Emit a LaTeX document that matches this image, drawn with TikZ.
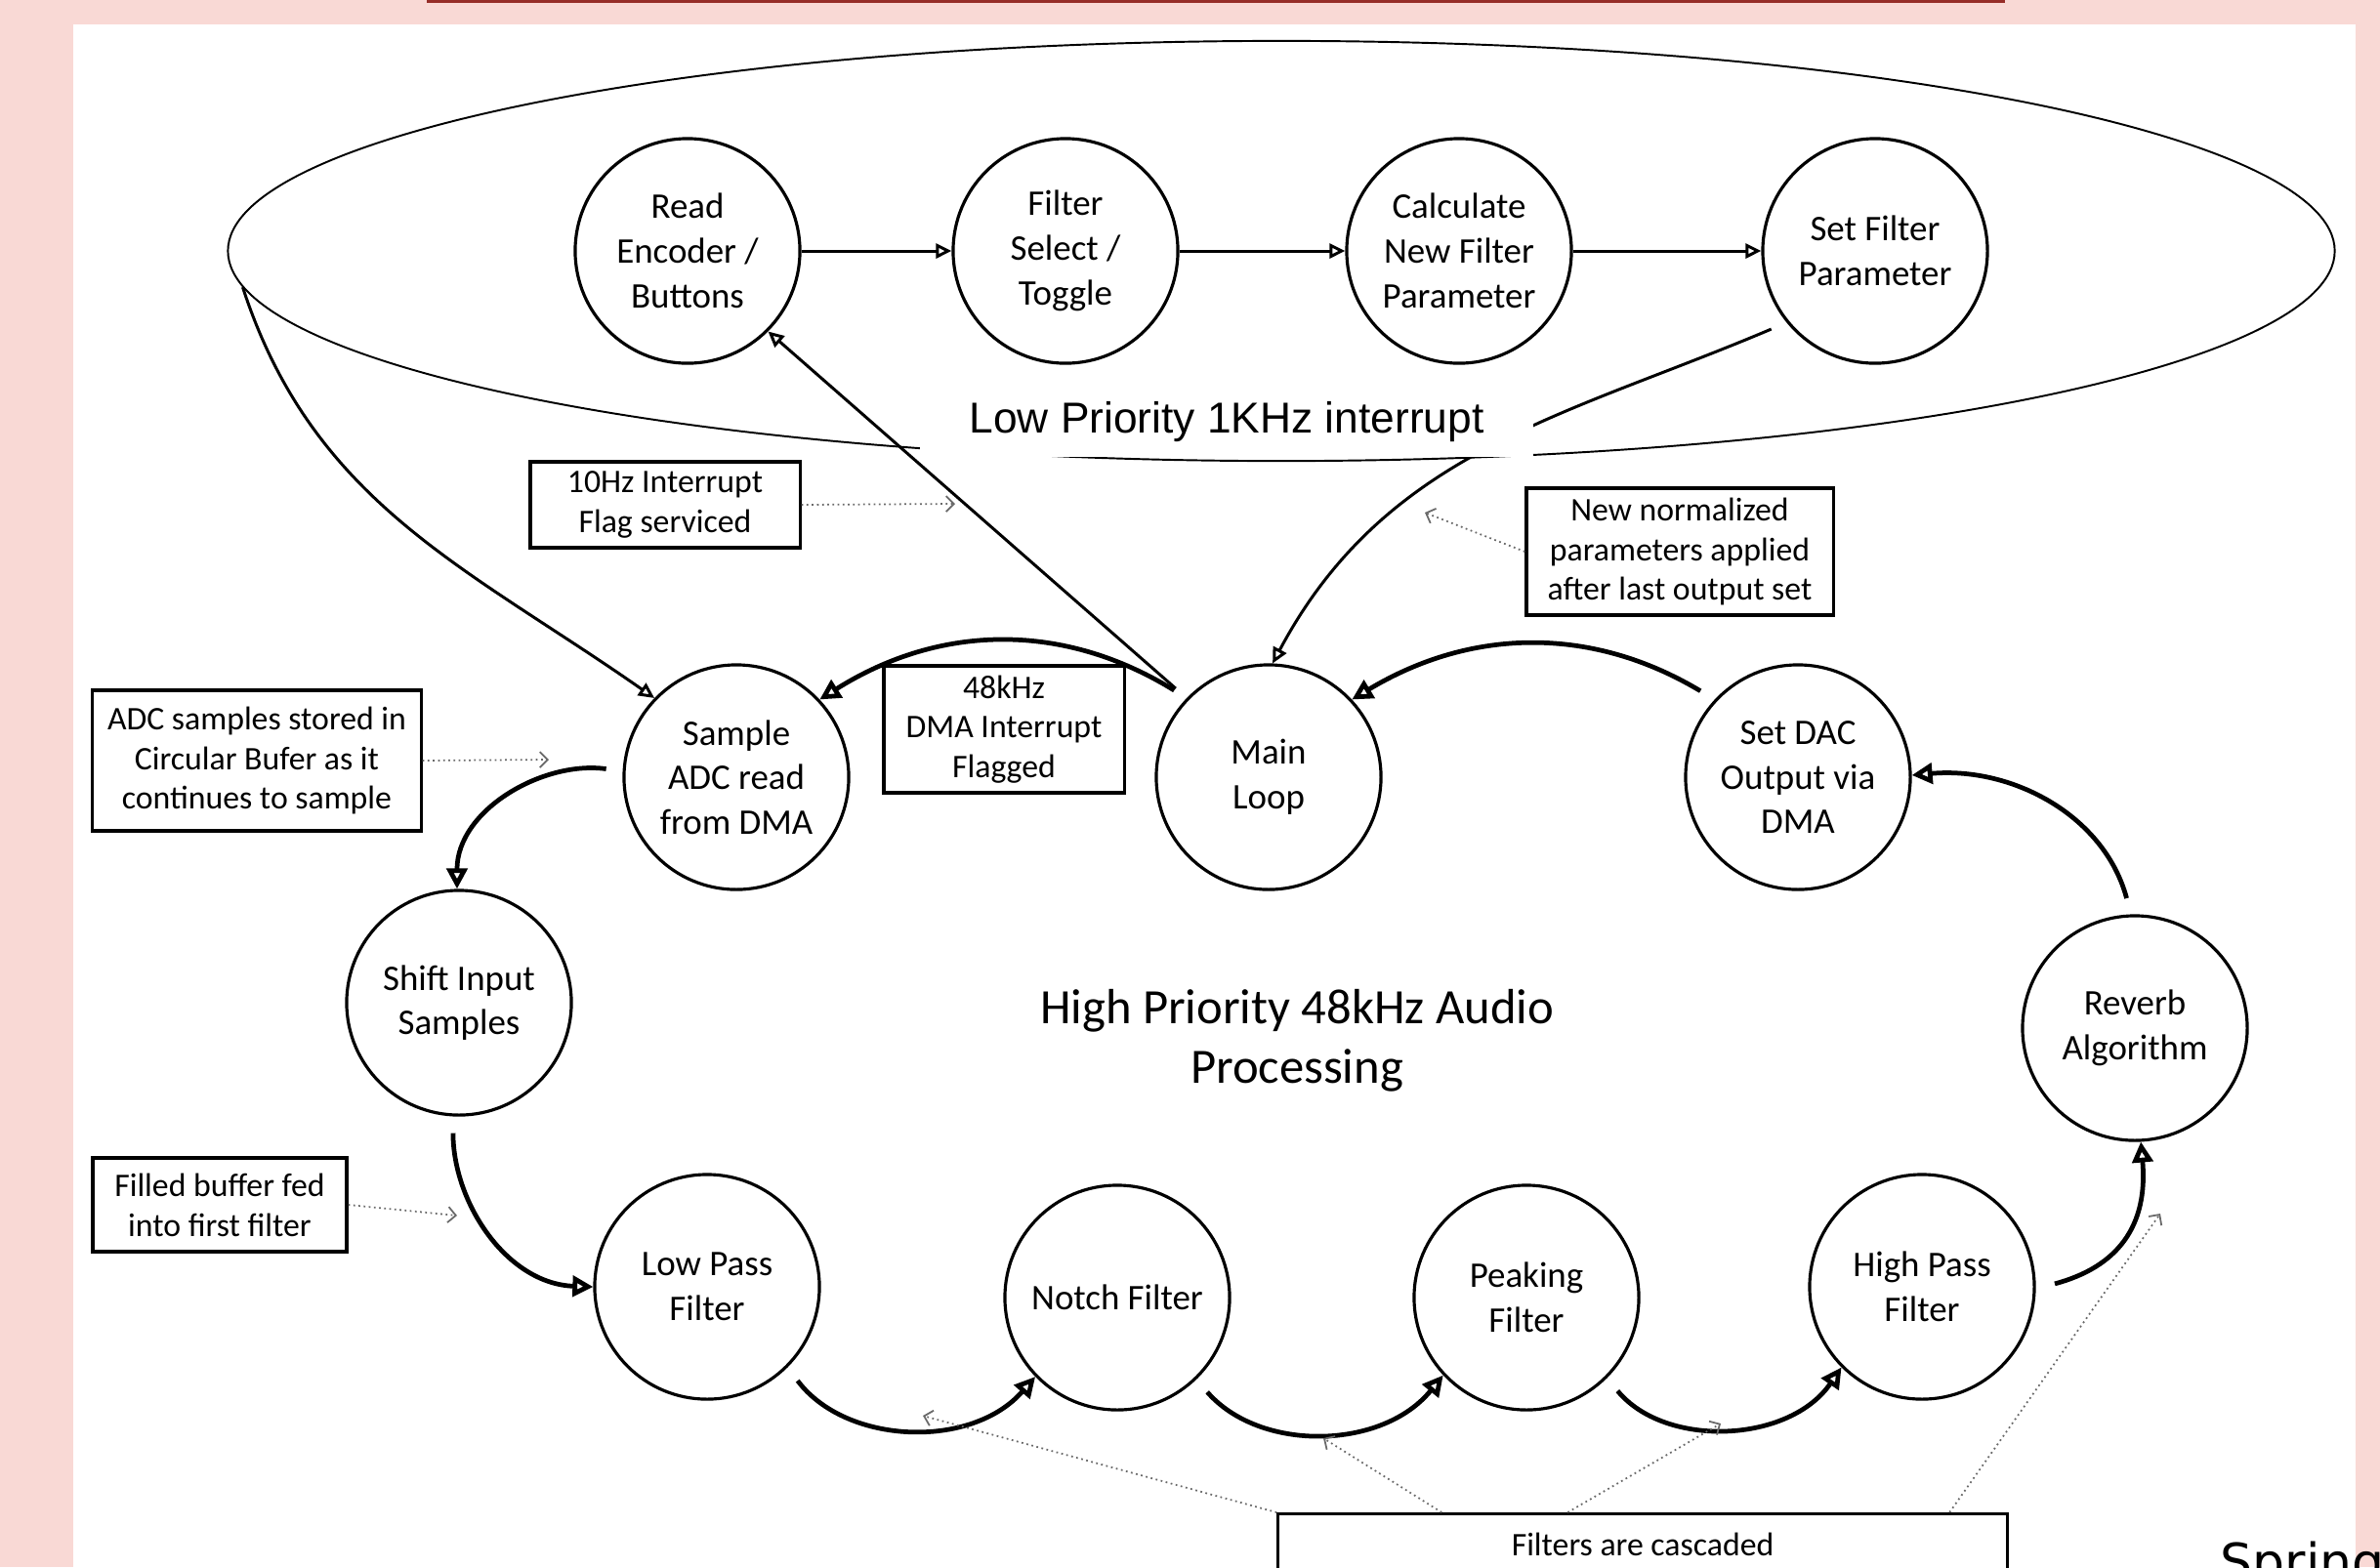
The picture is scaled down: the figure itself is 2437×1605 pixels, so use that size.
\documentclass[tikz,border=0pt]{standalone}
\usepackage{fontspec}
\setmainfont{Carlito}
\newfontfamily\arialfont{Liberation Sans}
\newfontfamily\dejavufont{DejaVu Sans}
\usetikzlibrary{arrows.meta,shapes.geometric,calc}
\definecolor{bgpink}{RGB}{249,217,213}
\definecolor{redline}{RGB}{150,45,40}
\definecolor{notegray}{RGB}{105,105,105}
\begin{document}
\begin{tikzpicture}[x=0.01cm,y=0.01cm,
  proc/.style={circle, draw, line width=0.9pt, minimum size=2.3cm, inner sep=0pt,
    align=center, font=\fontsize{10.5}{13}\selectfont},
  note/.style={draw, line width=0.9pt, fill=white, align=center, inner sep=0pt,
    font=\fontsize{9.6}{11.6}\selectfont},
  thinarr/.style={line width=0.85pt, -{Triangle[open,length=0.16cm,width=0.15cm]}},
  thickarr/.style={line width=1.35pt, -{Triangle[open,length=0.21cm,width=0.21cm]}},
  dotnote/.style={notegray, line width=0.5pt, densely dotted,
    -{Straight Barb[length=0.08cm,width=0.16cm]}}
]
\useasboundingbox (0,0) rectangle (2437,-1605);
\clip (0,0) rectangle (2437,-1605);
% background
\fill[bgpink] (0,0) rectangle (2437,-1605);
\fill[white] (75,-25) rectangle (2412,-1605);
\fill[redline] (437,0) rectangle (2053,-2.5);

% low priority region
\node[draw, ellipse, line width=0.55pt, minimum width=21.56cm, minimum height=4.3cm,
  inner sep=0pt] (lowell) at (1312,-257) {};

% nodes
\node[proc] (re) at (704,-257) {Read\\Encoder /\\Buttons};
\node[proc] (fs) at (1091,-257) {Filter\\Select /\\Toggle};
\node[proc] (ca) at (1494,-257) {Calculate\\New Filter\\Parameter};
\node[proc] (sf) at (1920,-257) {Set Filter\\Parameter};

\node[proc] (sa) at (754,-796) {Sample\\ADC read\\from DMA};
\node[proc] (ml) at (1299,-796) {Main\\Loop};
\node[proc] (sd) at (1841,-796) {Set DAC\\Output via\\DMA};
\node[proc] (sh) at (470,-1027) {Shift Input\\Samples};
\node[proc] (rv) at (2186,-1053) {Reverb\\Algorithm};
\node[proc] (lp) at (724,-1318) {Low Pass\\Filter};
\node[proc] (nf) at (1144,-1329) {Notch Filter};
\node[proc] (pk) at (1563,-1329) {Peaking\\Filter};
\node[proc] (hp) at (1968,-1318) {High Pass\\Filter};

\node[font=\fontsize{14.4}{17.4}\selectfont, align=center, inner sep=0pt] (hplabel)
  at (1328,-1066) {High Priority 48kHz Audio\\Processing};

% upper (low priority) connectors
\draw[thinarr] (re.east) -- (fs.west);
\draw[thinarr] (fs.east) -- (ca.west);
\draw[thinarr] (ca.east) -- (sf.west);
\draw[thinarr, shorten <=0.15cm] (ml.136) -- (re.-45);
\draw[thinarr, shorten <=0.17cm] (sf.219) to[out=203,in=62] (ml.88);
\draw[thinarr] (lowell.182) to[out=-72,in=145] (sa.136);

% label of the low priority region (covers the ellipse)
\node[fill=white, inner xsep=0.5cm, inner ysep=0pt, text height=0.53cm, text depth=0.245cm,
  anchor=base, font=\arialfont\fontsize{12.6}{15}\selectfont] (lplabel)
  at (1256,-443) {Low Priority 1KHz interrupt};

% lower (high priority) ring
\draw[thickarr, shorten <=0.15cm] (ml.136) to[bend right=32] (sa.43);
\draw[thickarr, shorten <=0.17cm] (sa.177) to[out=172,in=90] (sh.91);
\draw[thickarr, shorten <=0.17cm] (sh.-93) to[out=-90,in=178] (lp.180);
\draw[thickarr, shorten <=0.17cm] (lp.-45) to[bend right=51] (nf.224);
\draw[thickarr, shorten <=0.17cm] (nf.-46) to[bend right=50] (pk.223);
\draw[thickarr, shorten <=0.17cm] (pk.-45) to[bend right=53] (hp.225);
\draw[thickarr, shorten <=0.2cm] (hp.-1) to[out=15,in=-85,looseness=1.2] (rv.-87);
\draw[thickarr, shorten <=0.17cm] (rv.92) to[out=105,in=5] (sd.1);
\draw[thickarr, shorten <=0.17cm] (sd.137) to[bend right=31] (ml.43);

% notes
\node[note, minimum width=2.76cm, minimum height=0.88cm] (n10) at (681,-517)
  {10Hz Interrupt\\Flag serviced};
\node[note, minimum width=3.36cm, minimum height=1.44cm] (nadc) at (263,-779)
  {ADC samples stored in\\Circular Bufer as it\\continues to sample};
\node[note, minimum width=2.46cm, minimum height=1.30cm] (n48) at (1028,-747)
  {48kHz\\DMA Interrupt\\Flagged};
\node[note, minimum width=3.14cm, minimum height=1.30cm] (nnew) at (1720,-565)
  {New normalized\\parameters applied\\after last output set};
\node[note, minimum width=2.60cm, minimum height=0.96cm] (nfill) at (225,-1234)
  {Filled buffer fed\\into first filter};
\node[note, minimum width=7.46cm, minimum height=0.62cm, anchor=north] (casc)
  at (1682,-1549) {Filters are cascaded};

% note pointers
\coordinate (p10) at (978,-516);
\coordinate (padc) at (562,-778);
\coordinate (pnew) at (1459,-525);
\coordinate (pfill) at (468,-1245);
\coordinate (pc1) at (945,-1450);
\coordinate (pc2) at (1355,-1473);
\coordinate (pc3) at (1762,-1458);
\coordinate (pc4) at (2212,-1243);
\draw[dotnote] (n10.east) -- (p10);
\draw[dotnote] (nadc.east) -- (padc);
\draw[dotnote] (nnew.west) -- (pnew);
\draw[dotnote] (nfill.east) -- (pfill);
\draw[dotnote] (casc.north west) -- (pc1);
\draw[dotnote] ($(casc.north west)+(169,0)$) -- (pc2);
\draw[dotnote] ($(casc.north west)+(298,0)$) -- (pc3);
\draw[dotnote] ($(casc.north west)+(689,0)$) -- (pc4);

% cut-off text at the bottom right
\node[anchor=base west, inner sep=0pt, font=\dejavufont\fontsize{14.8}{17}\selectfont]
  (spring) at (2273,-1618) {Spring};
\end{tikzpicture}
\end{document}
